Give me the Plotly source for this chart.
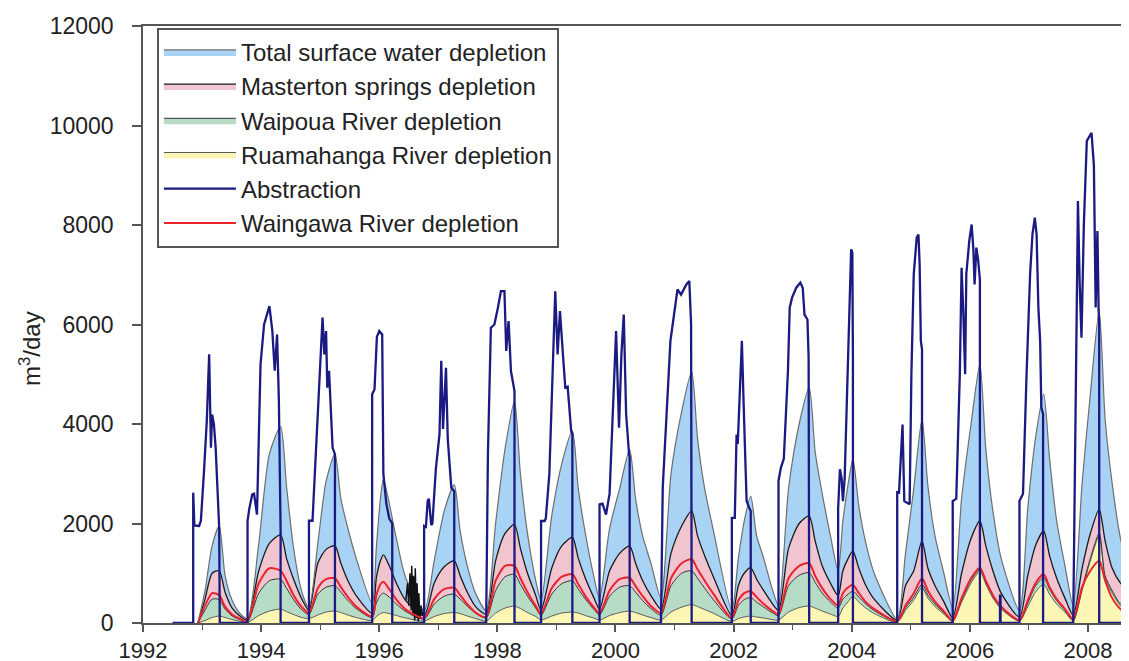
import plotly.graph_objects as go

# ---------------- data ----------------
dep_dates = [
    1992.93, 1993.05, 1993.17, 1993.29, 1993.39, 1993.51, 1993.65,
    1993.77, 1993.96, 1994.14, 1994.33, 1994.43, 1994.55, 1994.69,
    1994.81, 1994.96, 1995.10, 1995.25, 1995.35, 1995.47, 1995.61,
    1995.88, 1995.95, 1996.02, 1996.07, 1996.17, 1996.29, 1996.45,
    1996.76, 1996.93, 1997.10, 1997.27, 1997.37, 1997.49, 1997.63,
    1997.81, 1997.97, 1998.13, 1998.29, 1998.39, 1998.51, 1998.65,
    1998.74, 1998.92, 1999.09, 1999.27, 1999.37, 1999.49, 1999.63,
    1999.73, 1999.90, 2000.07, 2000.24, 2000.34, 2000.46, 2000.60,
    2000.77, 2000.94, 2001.12, 2001.29, 2001.39, 2001.51, 2001.65,
    2001.97, 2002.08, 2002.18, 2002.29, 2002.39, 2002.51, 2002.65,
    2002.76, 2002.93, 2003.11, 2003.28, 2003.38, 2003.50, 2003.64,
    2003.77, 2003.85, 2003.94, 2004.02, 2004.12, 2004.24, 2004.38,
    2004.77, 2004.91, 2005.05, 2005.19, 2005.29, 2005.41, 2005.55,
    2005.71, 2005.86, 2006.02, 2006.17, 2006.27, 2006.39, 2006.53,
    2006.84, 2006.98, 2007.11, 2007.25, 2007.35, 2007.47, 2007.61,
    2007.75, 2007.90, 2008.04, 2008.19, 2008.29, 2008.41, 2008.55, 2008.68,
]

total_depletion = [
    0, 650, 1550, 1950, 950, 450, 180,
    90, 1600, 3400, 3950, 2750, 1500, 620,
    300, 1600, 2850, 3400, 2500, 1900, 1300,
    400, 1500, 2500, 2900, 2400, 1700, 900,
    250, 1250, 2250, 2780, 1850, 1150, 600,
    250, 2000, 3500, 4460, 3000, 1800, 850,
    450, 2150, 3200, 3860, 2700, 1800, 950,
    500, 1900, 2700, 3490, 2500, 1750, 1200,
    500, 3000, 4250, 5050, 3700, 2700, 1900,
    250, 1300, 2050, 2550, 1750, 1300, 700,
    350, 2700, 4000, 4730, 3450, 2600, 1750,
    1050, 2050, 2800, 3300, 2350, 1600, 1000,
    80, 1400, 2700, 4100, 2750, 1750, 1050,
    300, 2500, 4000, 5200, 3500, 2250, 1300,
    250, 2300, 3700, 4600, 3300, 2050, 1150,
    350, 2800, 4600, 6270, 4100, 2800, 1700, 1100,
]

masterton_depletion = [
    0, 480, 1000, 1050, 620, 300, 130,
    60, 1050, 1600, 1770, 1300, 880, 480,
    250, 1200, 1480, 1550, 1200, 850, 550,
    200, 900, 1250, 1370, 1150, 800, 450,
    150, 800, 1130, 1250, 950, 620, 330,
    180, 1250, 1800, 1980, 1500, 1000, 550,
    250, 1100, 1550, 1720, 1300, 900, 520,
    280, 1050, 1400, 1550, 1200, 850, 550,
    280, 1400, 1950, 2250, 1750, 1350, 950,
    150, 750, 1000, 1110, 880, 650, 400,
    250, 1500, 2000, 2150, 1650, 1150, 800,
    550, 1050, 1300, 1450, 1100, 750, 480,
    60, 750, 1050, 1650, 1100, 750, 450,
    100, 1000, 1700, 2050, 1550, 1050, 600,
    120, 950, 1550, 1850, 1350, 900, 500,
    150, 1100, 1800, 2290, 1650, 1100, 800, 650,
]

waingawa_depletion = [
    0, 350, 600, 560, 330, 170, 80,
    40, 800, 1100, 1050, 850, 560, 320,
    200, 700, 880, 900, 720, 520, 330,
    130, 550, 780, 830, 680, 470, 270,
    100, 480, 680, 710, 560, 380, 210,
    120, 850, 1150, 1150, 900, 620, 340,
    180, 700, 930, 980, 780, 540, 320,
    200, 650, 880, 910, 740, 540, 340,
    200, 900, 1200, 1280, 1080, 850, 600,
    100, 450, 600, 640, 520, 380, 250,
    180, 900, 1150, 1200, 950, 700, 480,
    350, 600, 720, 770, 600, 420, 280,
    40, 350, 600, 900, 650, 430, 250,
    50, 500, 900, 1110, 850, 560, 330,
    60, 450, 800, 980, 720, 480, 280,
    80, 720, 1050, 1250, 850, 500, 280, 200,
]

waipoua_depletion = [
    0, 260, 480, 470, 280, 140, 65,
    30, 600, 850, 880, 700, 470, 260,
    170, 580, 720, 750, 620, 450, 290,
    110, 400, 560, 600, 520, 380, 230,
    80, 380, 540, 580, 480, 340, 200,
    100, 650, 930, 980, 780, 540, 300,
    150, 580, 790, 850, 680, 480, 280,
    160, 540, 720, 750, 620, 450, 290,
    160, 750, 1000, 1050, 900, 700, 480,
    80, 350, 470, 510, 420, 320, 210,
    150, 750, 960, 1010, 820, 600, 420,
    300, 480, 580, 640, 520, 380, 250,
    30, 300, 520, 780, 560, 380, 220,
    40, 460, 860, 1080, 830, 540, 310,
    50, 400, 740, 910, 680, 450, 260,
    60, 700, 1300, 1800, 950, 650, 380, 280,
]

ruamahanga_depletion = [
    0, 50, 110, 140, 110, 70, 35,
    10, 150, 240, 280, 230, 170, 110,
    90, 160, 220, 240, 210, 160, 110,
    50, 130, 190, 210, 190, 150, 100,
    40, 130, 190, 210, 190, 140, 90,
    40, 200, 300, 340, 290, 210, 130,
    60, 140, 200, 220, 200, 150, 100,
    60, 150, 210, 240, 210, 160, 110,
    60, 220, 320, 370, 330, 270, 200,
    30, 90, 120, 140, 120, 100, 70,
    60, 220, 310, 340, 300, 240, 180,
    130, 300, 430, 540, 420, 300, 190,
    20, 250, 460, 710, 500, 330, 190,
    30, 420, 800, 1040, 780, 500, 280,
    40, 330, 620, 780, 580, 380, 220,
    40, 650, 1250, 1750, 900, 600, 340, 240,
]

abstraction_dates = [
    1992.50, 1992.85, 1992.85, 1992.87, 1992.95, 1992.98, 1993.03, 1993.08, 1993.12,
    1993.15, 1993.17, 1993.20, 1993.23, 1993.29, 1993.30,
    1993.77, 1993.77, 1993.80, 1993.85, 1993.88, 1993.93, 1993.99, 1994.05, 1994.14,
    1994.19, 1994.23, 1994.27, 1994.30, 1994.33, 1994.33,
    1994.81, 1994.81, 1994.87, 1994.95, 1995.01, 1995.04, 1995.07, 1995.10, 1995.12,
    1995.15, 1995.21, 1995.25, 1995.25,
    1995.88, 1995.88, 1995.92, 1995.96, 1996.00, 1996.05, 1996.07, 1996.12, 1996.17,
    1996.22, 1996.22,
    1996.76, 1996.76, 1996.79, 1996.82, 1996.84, 1996.88, 1996.90, 1996.96, 1997.02,
    1997.05, 1997.08, 1997.13, 1997.16, 1997.22, 1997.27, 1997.27,
    1997.81, 1997.84, 1997.89, 1997.95, 1998.01, 1998.06, 1998.12, 1998.15, 1998.19,
    1998.23, 1998.29, 1998.29,
    1998.74, 1998.74, 1998.80, 1998.82, 1998.88, 1998.94, 1998.98, 1999.02, 1999.06,
    1999.11, 1999.15, 1999.19, 1999.25, 1999.27, 1999.27,
    1999.73, 1999.73, 1999.78, 1999.84, 1999.90, 1999.95, 2000.01, 2000.06, 2000.10,
    2000.14, 2000.18, 2000.23, 2000.24, 2000.24,
    2000.77, 2000.80, 2000.89, 2000.93, 2001.05, 2001.11, 2001.20, 2001.25, 2001.28,
    2001.29,
    2001.97, 2001.97, 2002.02, 2002.05, 2002.07, 2002.10, 2002.14, 2002.17, 2002.22,
    2002.27, 2002.29, 2002.29,
    2002.76, 2002.76, 2002.80, 2002.85, 2002.92, 2002.95, 2002.99, 2003.06, 2003.13,
    2003.17, 2003.20, 2003.25, 2003.27, 2003.28,
    2003.77, 2003.77, 2003.80, 2003.83, 2003.85, 2003.88, 2003.91, 2003.94, 2003.97,
    2003.99, 2004.01, 2004.02, 2004.02,
    2004.77, 2004.77, 2004.80, 2004.86, 2004.89, 2004.98, 2005.01, 2005.05, 2005.10,
    2005.13, 2005.15, 2005.17, 2005.19, 2005.19,
    2005.71, 2005.71, 2005.77, 2005.83, 2005.86, 2005.89, 2005.92, 2005.94, 2005.99,
    2006.03, 2006.06, 2006.08, 2006.11, 2006.14, 2006.17, 2006.17,
    2006.51, 2006.51, 2006.52, 2006.52,
    2006.84, 2006.84, 2006.90, 2006.96, 2007.02, 2007.06, 2007.10, 2007.13, 2007.16,
    2007.19, 2007.21, 2007.24, 2007.24,
    2007.75, 2007.76, 2007.80, 2007.83, 2007.86, 2007.89, 2007.93, 2007.98, 2008.06,
    2008.10, 2008.13, 2008.16, 2008.18, 2008.19, 2008.19,
    2008.68,
]

abstraction = [
    0, 0, 2620, 1960, 1950, 2055, 2990, 4060, 5400,
    3525, 4190, 4000, 3525, 1915, 0,
    0, 2050, 2300, 2585, 2600, 2180, 5200, 6000, 6370,
    5870, 5070, 5800, 4500, 1855, 0,
    0, 2055, 2055, 4070, 5400, 6140, 5400, 5870, 4730,
    5070, 3525, 3390, 0,
    0, 4600, 4700, 5750, 5870, 5800, 3000, 2400, 2100,
    2000, 0,
    0, 1950, 1930, 2450, 2500, 1970, 2000, 3120, 3790,
    5270, 3900, 5130, 3700, 2720, 2650, 0,
    0, 3390, 5935, 6000, 6340, 6670, 6670, 5470, 6070,
    5065, 4660, 0,
    0, 2050, 2050, 2100, 2990, 5400, 6670, 5400, 6270,
    5400, 4730, 4750, 3860, 3800, 0,
    0, 2385, 2400, 2180, 2600, 4060, 5870, 3925, 5400,
    6200, 4200, 3390, 3350, 0,
    0, 2720, 4930, 5670, 6705, 6600, 6805, 6875, 6000,
    0,
    0, 2115, 2115, 3790, 3600, 4390, 5670, 4390, 2450,
    2300, 2250, 0,
    0, 2855, 3120, 3300, 5065, 6340, 6540, 6740, 6840,
    6740, 6200, 6100, 5330, 0,
    0, 2300, 3090, 2900, 2450, 2900, 4060, 5400, 6740,
    7510, 7450, 5330, 0,
    0, 2650, 2600, 3990, 2450, 2385, 5000, 7010, 7745,
    7810, 7200, 5670, 5500, 0,
    0, 2450, 2500, 5000, 7140, 6200, 5000, 7010, 7680,
    8010, 7500, 6805, 7545, 7300, 6900, 0,
    0, 550, 550, 0,
    0, 2450, 2600, 5000, 7010, 7810, 8150, 7810, 6340,
    5670, 4330, 4200, 0,
    0, 1000, 5000, 8480, 6800, 5735, 8000, 9690, 9855,
    9200, 6340, 7880, 6300, 6000, 0,
    0,
]

# noisy record in late 1996 (black spikes)
noise_dates = [1996.45, 1996.48, 1996.50, 1996.52, 1996.54, 1996.55, 1996.57, 1996.58, 1996.60,
               1996.61, 1996.63, 1996.64, 1996.66, 1996.67, 1996.69, 1996.71, 1996.73, 1996.76]
noise_values = [450, 800, 350, 1000, 250, 1150, 150, 950, 50,
                1100, 100, 800, 30, 600, 80, 350, 150, 250]

year_ticks = [1992, 1994, 1996, 1998, 2000, 2002, 2004, 2006, 2008]
value_ticks = [0, 2000, 4000, 6000, 8000, 10000, 12000]
y_title = "m<sup>3</sup>/day"

# ---------------- figure ----------------
FONT = "Arial, 'Liberation Sans', sans-serif"
AXIS = "#555555"
SMOOTH = 0.7

fig = go.Figure()

fig.add_trace(go.Scatter(
    x=dep_dates, y=ruamahanga_depletion, name="Ruamahanga River depletion",
    mode="lines", line=dict(color="#5a5a5a", width=1, shape="spline", smoothing=SMOOTH),
    fill="tozeroy", fillcolor="#fbf6b4", legendrank=4))
fig.add_trace(go.Scatter(
    x=dep_dates, y=waipoua_depletion, name="Waipoua River depletion",
    mode="lines", line=dict(color="#333333", width=1, shape="spline", smoothing=SMOOTH),
    fill="tonexty", fillcolor="#b6dcc5", legendrank=3))
fig.add_trace(go.Scatter(
    x=dep_dates, y=masterton_depletion, name="Masterton springs depletion",
    mode="lines", line=dict(color="#1a1a1a", width=1.3, shape="spline", smoothing=SMOOTH),
    fill="tonexty", fillcolor="#f1c5d0", legendrank=2))
fig.add_trace(go.Scatter(
    x=dep_dates, y=total_depletion, name="Total surface water depletion",
    mode="lines", line=dict(color="#6e6e6e", width=1.2, shape="spline", smoothing=SMOOTH),
    fill="tonexty", fillcolor="#a8d3f4", legendrank=1))
fig.add_trace(go.Scatter(
    x=noise_dates, y=noise_values, mode="lines", showlegend=False,
    line=dict(color="#111111", width=1.5), hoverinfo="skip"))
fig.add_trace(go.Scatter(
    x=dep_dates, y=waingawa_depletion, name="Waingawa River depletion",
    mode="lines", line=dict(color="#e8232b", width=2, shape="spline", smoothing=SMOOTH),
    legendrank=6))
fig.add_trace(go.Scatter(
    x=abstraction_dates, y=abstraction, name="Abstraction",
    mode="lines", line=dict(color="#1a1a82", width=2.3), legendrank=5))

fig.update_layout(
    width=1129, height=661,
    margin=dict(l=135, r=0, t=18, b=46),
    paper_bgcolor="white", plot_bgcolor="white",
    font=dict(family=FONT, size=22, color="#222222"),
    showlegend=True,
    legend=dict(
        x=0.014, y=0.997, xanchor="left", yanchor="top",
        traceorder="normal",
        bgcolor="white", bordercolor=AXIS, borderwidth=2,
        font=dict(family=FONT, size=24, color="#222222"),
        itemwidth=72, tracegroupgap=0,
    ),
    xaxis=dict(
        range=[1992, 2008.83], tickmode="array", tickvals=year_ticks,
        ticktext=[str(v) for v in year_ticks], automargin=False,
        ticks="outside", ticklen=7, tickcolor=AXIS, tickwidth=1.5,
        showline=True, linecolor=AXIS, linewidth=1.5, mirror=True,
        showgrid=False, zeroline=False,
        minor=dict(dtick=1, tick0=1992, ticks="outside", ticklen=5,
                   tickcolor=AXIS, tickwidth=1, showgrid=False),
        tickfont=dict(size=22),
    ),
    yaxis=dict(
        range=[0, 12000], tickmode="array", tickvals=value_ticks,
        ticktext=[str(v) for v in value_ticks], automargin=False,
        ticks="outside", ticklen=9, tickcolor=AXIS, tickwidth=1.5,
        showline=True, linecolor=AXIS, linewidth=1.5,
        showgrid=False, zeroline=False,
        tickfont=dict(size=23), ticklabelstandoff=14,
    ),
    annotations=[dict(
        text=y_title, textangle=-90, showarrow=False,
        xref="paper", yref="paper", x=-0.113, y=0.46,
        xanchor="center", yanchor="middle",
        font=dict(family=FONT, size=24, color="#222222"),
    )],
)

fig.write_html("out.html")
